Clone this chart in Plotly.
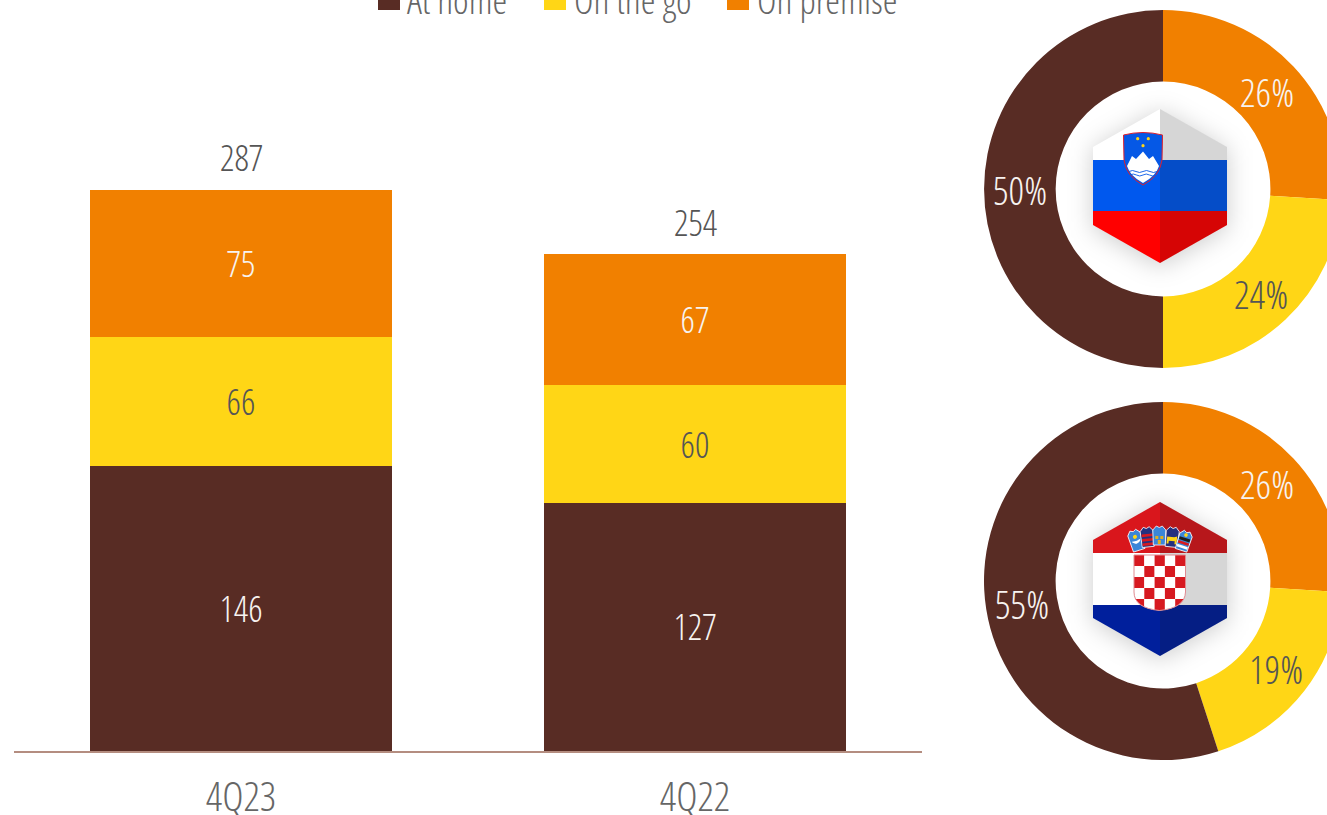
import base64
import math
import plotly.graph_objects as go

# Volume by channel
quarters = ["4Q23", "4Q22"]
series_names = ["At home", "On the go", "On premise"]
at_home = [146, 127]
on_the_go = [66, 60]
on_premise = [75, 67]
totals = [287, 254]

# Channel split per market, clockwise from twelve o'clock
pie_labels = ["On premise", "On the go", "At home"]
slovenia_share = [26, 24, 50]
croatia_share = [26, 19, 55]

BROWN = "#582c24"
YELLOW = "#ffd616"
ORANGE = "#f18000"
LIGHT = "#f7f3f0"
DARK = "#555555"
FONT = "Open Sans Condensed Light"
W, H = 1360, 815
PIE_X, PIE_R = 1163, 179
PIE_MID_R = 143


def px_x(x):
    return x / W


def px_y(y):
    return (H - y) / H


def hexagon_svg(bands, emblem):
    # Hexagonal flag badge with a soft shadow and a darkened right half
    hexagon = "M107 22 L174 60 L174 138 L107 176 L40 138 L40 60 Z"
    rects = "".join(
        f'<rect x="40" y="{y0}" width="134" height="{y1 - y0}" fill="{c}"/>'
        for y0, y1, c in bands
    )
    svg = f'''<svg xmlns="http://www.w3.org/2000/svg" width="214" height="214" viewBox="0 0 214 214">
<defs><clipPath id="c"><path d="{hexagon}"/></clipPath>
<filter id="b" x="-40%" y="-40%" width="180%" height="180%"><feGaussianBlur stdDeviation="12"/></filter></defs>
<path d="{hexagon}" transform="translate(0 3)" fill="#000" fill-opacity="0.20" filter="url(#b)"/>
<g clip-path="url(#c)">{rects}
<rect x="107" y="0" width="67" height="214" fill="#1c1c1c" fill-opacity="0.18"/></g>{emblem}</svg>'''
    return "data:image/svg+xml;base64," + base64.b64encode(svg.encode()).decode()


# Slovenian coat of arms
slovenia_arms = '''
<path d="M70.5 48 Q90 43 109.5 48 L109 73 Q107 89 90 98 Q73 89 71 73 Z" fill="#0558e6" stroke="#e0202c" stroke-width="1"/>
<circle cx="84.7" cy="51.7" r="1.6" fill="#ffd616"/><circle cx="95.3" cy="51.7" r="1.6" fill="#ffd616"/><circle cx="90" cy="58.7" r="1.6" fill="#ffd616"/>
<path d="M74 79 L79 69 L83 72 L90 64.5 L96 72 L100 69 L106 79 Q103 89 90 96 Q77 89 74 79 Z" fill="#fff"/>
<path d="M76 84.5 q3.5 -2 7 0 t7 0 t7 0 t7 0 M77 88 q3.2 -2 6.5 0 t6.5 0 t6.5 0 t6.5 0" fill="none" stroke="#0558e6" stroke-width="0.9"/>'''

# Croatian chequered shield and crown of five small shields
check = ""
cols = [81, 91.3, 101.6, 111.9, 122.2]
rows = [75, 86, 97, 108, 119]
for r, yy in enumerate(rows):
    for c, xx in enumerate(cols):
        check += f'<rect x="{xx}" y="{yy}" width="10.3" height="11" fill="{"#d71920" if (r + c) % 2 == 0 else "#ffffff"}"/>'

crown_x = [81.3, 93.7, 106.3, 119.7, 132.7]
crown_top = [50, 47, 46, 47, 51]
crown_bottom = [71, 67, 65, 67, 71]
crown_tilt = [-18, -6, 0, 6, 18]
crown_fill = ["#3b86d8", "#24307f", "#3b86d8", "#24307f", "#3b86d8"]
crown_detail = [
    '<path d="M-4 6 Q0 11 4 6 Q0 8 -4 6" fill="#fff" stroke="#fff"/><circle cx="0" cy="2" r="2" fill="#ffd616"/>',
    '<rect x="-5.5" y="2" width="11" height="2.6" fill="#d71920"/><rect x="-5.5" y="6.5" width="11" height="2.6" fill="#d71920"/><rect x="-5.5" y="11" width="11" height="2.6" fill="#d71920"/>',
    '<path d="M-4 5 h3 v3 h-3 Z M1 5 h3 v3 h-3 Z M-1.5 9 h3 v4 h-3 Z" fill="#e0b020"/>',
    '<path d="M-5 5 h7 l3 -1 v8 h-2 v-3 h-6 v3 h-2 Z" fill="#ffd616"/>',
    '<rect x="-5.5" y="2" width="11" height="3" fill="#1d1d1d"/><rect x="-5.5" y="6" width="11" height="2.6" fill="#d71920"/><rect x="-5.5" y="10" width="11" height="2.6" fill="#fff"/><circle cx="0" cy="-1" r="1.8" fill="#ffd616"/>',
]
crown = ""
for cx, top, bottom, tilt, fill, detail in zip(crown_x, crown_top, crown_bottom, crown_tilt, crown_fill, crown_detail):
    h = bottom - top
    crown += (f'<g transform="translate({cx} {top + 5}) rotate({tilt})">'
              f'<path d="M-6.5 -1 L-3 -5 L0 -3.5 L3 -5 L6.5 -1 L6 {h - 5} L-6 {h - 5} Z" fill="{fill}" stroke="#fff" stroke-width="0.8"/>'
              f'{detail}</g>')
shield = "M81 75 L132.5 75 L132.5 112 Q132 128 106.5 130.5 Q81 128 81 112 Z"
croatia_arms = (
    f'<clipPath id="s"><path d="{shield}"/></clipPath><path d="{shield}" fill="#fff"/>'
    f'<g clip-path="url(#s)">{check}</g>'
    f'<path d="{shield}" fill="none" stroke="#e08a90" stroke-width="1"/>'
    + crown
)

slovenia_flag = hexagon_svg(
    [(0, 73, "#ffffff"), (73, 124, "#0058ee"), (124, 214, "#ff0000")], slovenia_arms
)
croatia_flag = hexagon_svg(
    [(0, 73, "#d9161c"), (73, 125, "#ffffff"), (125, 214, "#001f9c")], croatia_arms
)

fig = go.Figure()

for name, values, color, text_color in zip(
    series_names,
    [at_home, on_the_go, on_premise],
    [BROWN, YELLOW, ORANGE],
    [LIGHT, DARK, LIGHT],
):
    fig.add_bar(
        x=quarters, y=values, name=name, marker=dict(color=color, line_width=0),
        text=values, textposition="inside", insidetextanchor="middle", textangle=0,
        constraintext="none", textfont=dict(family=FONT, size=36, color=text_color),
        showlegend=False, hoverinfo="x+y+name",
    )

annotations = []
for shares, y0, y1 in [(slovenia_share, 10, 368), (croatia_share, 402, 760)]:
    fig.add_pie(
        labels=pie_labels, values=shares, hole=0.6, sort=False, direction="clockwise",
        rotation=0, marker=dict(colors=[ORANGE, YELLOW, BROWN], line_width=0),
        domain=dict(x=[px_x(PIE_X - PIE_R), px_x(PIE_X + PIE_R)], y=[px_y(y1), px_y(y0)]),
        textinfo="none", showlegend=False,
    )
    # Share labels sit at the middle of each ring segment
    start = 0
    cy = (y0 + y1) / 2
    for share, colour in zip(shares, [LIGHT, DARK, LIGHT]):
        angle = math.radians((start + share / 2) * 3.6)
        start += share
        annotations.append(dict(
            x=px_x(PIE_X + PIE_MID_R * math.sin(angle)), y=px_y(cy - PIE_MID_R * math.cos(angle)),
            xref="paper", yref="paper", xanchor="center", yanchor="middle",
            text=f"{share}%", showarrow=False, font=dict(family=FONT, size=39, color=colour),
        ))

annotations += [
    dict(x=q, y=t, yref="y", xref="x", text=str(t), showarrow=False, yanchor="middle", yshift=32,
         font=dict(family=FONT, size=36, color=DARK))
    for q, t in zip(quarters, totals)
]
shapes = []
for name, color, sx, tx in zip(series_names, [BROWN, YELLOW, ORANGE], [378, 544, 727], [405, 572, 755]):
    shapes.append(dict(type="rect", xref="paper", yref="paper", x0=px_x(sx), x1=px_x(sx + 22),
                       y0=px_y(10), y1=1.02, fillcolor=color, line_width=0, layer="above"))
    annotations.append(dict(x=px_x(tx), y=px_y(-1), xref="paper", yref="paper", text=name, showarrow=False,
                            xanchor="left", yanchor="middle", font=dict(family=FONT, size=37.5, color="#666666")))

images = [
    dict(source=src, xref="paper", yref="paper", x=px_x(1053), y=px_y(yt), sizex=214 / W, sizey=214 / H,
         xanchor="left", yanchor="top", sizing="stretch", layer="above")
    for src, yt in [(slovenia_flag, 87), (croatia_flag, 480)]
]

fig.update_layout(
    width=W, height=H, margin=dict(l=0, r=0, t=0, b=0), barmode="stack", bargap=1 / 3,
    paper_bgcolor="#ffffff", plot_bgcolor="#ffffff", annotations=annotations, shapes=shapes, images=images,
    xaxis=dict(domain=[px_x(14), px_x(922)], showgrid=False, zeroline=False, showline=True, automargin=False,
               linecolor="#b48d80", linewidth=2, ticks="outside", ticklen=9, tickcolor="rgba(0,0,0,0)",
               tickfont=dict(family=FONT, size=41, color="#666666")),
    yaxis=dict(domain=[px_y(751), 1], range=[0, 751 / 1.955], visible=False),
)

# The donuts run past the right edge of the window, so the page itself must not scroll
fig.write_html("out.html", post_script="document.body.style.overflow='hidden';document.documentElement.style.overflow='hidden';")
